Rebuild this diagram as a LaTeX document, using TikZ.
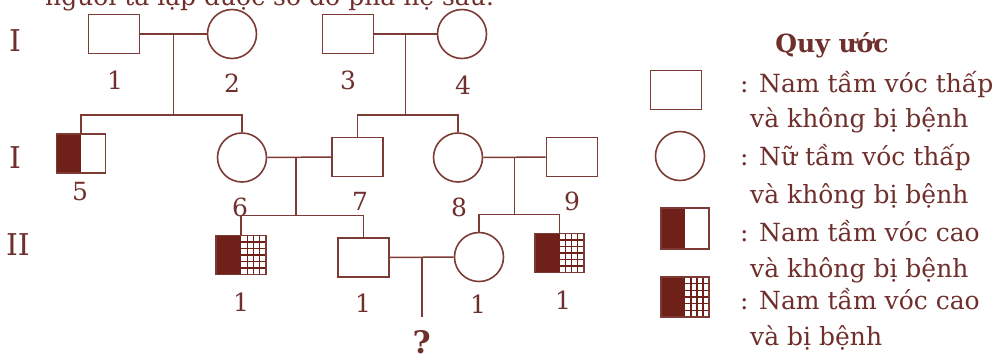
\documentclass[tikz,border=0pt]{standalone}
\usepackage{fontspec}
\setmainfont{DejaVu Serif}
\usetikzlibrary{
  positioning,
  calc
}
\definecolor{pedline}{HTML}{7D3B36}
\definecolor{pedfill}{HTML}{6E2019}
\definecolor{pedtext}{HTML}{6F2F2C}

\begin{document}
\begin{tikzpicture}[
    x=1pt, y=-1pt,
    every node/.style={font=\fontsize{25}{30}\selectfont, text=pedtext},
    male/.style={rectangle, draw=pedline, line width=1.6pt, fill=white,
                 minimum width=51pt, minimum height=39pt, inner sep=0pt},
    female/.style={circle, draw=pedline, line width=1.6pt, fill=white,
                   minimum size=49pt, inner sep=0pt},
    tallmale/.style={male, path picture={
        \fill[pedfill] (path picture bounding box.south west) rectangle (path picture bounding box.north);}},
    sickmale/.style={male, path picture={
        \fill[pedfill] (path picture bounding box.south west) rectangle (path picture bounding box.north);
        \foreach \k in {1,2,3}
          \draw[pedfill, line width=1.1pt] ($(path picture bounding box.south)!\k/4!(path picture bounding box.south east)$) -- ($(path picture bounding box.north)!\k/4!(path picture bounding box.north east)$);
        \foreach \k in {1,...,5}
          \draw[pedfill, line width=1.1pt] ($(path picture bounding box.south)!\k/6!(path picture bounding box.north)$) -- ($(path picture bounding box.south east)!\k/6!(path picture bounding box.north east)$);}},
    link/.style={draw=pedline, line width=1.5pt},
    num/.style={inner sep=0pt},
    genlabel/.style={font=\fontsize{30}{34}\selectfont, inner sep=0pt},
    legtext/.style={anchor=base west, inner sep=0pt},
]
\useasboundingbox (0,0) rectangle (1004,360);

% --- Cut-off line of text above ---
\node[anchor=base west, inner sep=0pt] (intro) at (45,5) {người ta lập được sơ đồ phả hệ sau:};

% --- Generation labels ---
\node[genlabel] (g1) at (15,41) {I};
\node[genlabel] (g2) at (15,158) {I};
\node[genlabel] (g3) at (18,245) {II};

% --- Row 1: grandparents ---
\node[male] (p1) at (114,34) {};
\node[female] (p2) at (232,34) {};
\node[male] (p3) at (348,34) {};
\node[female] (p4) at (462,34) {};
\node[num] (n1) at (115,80) {1};
\node[num] (n2) at (232,83) {2};
\node[num] (n3) at (348,80) {3};
\node[num] (n4) at (463,85) {4};

% --- Row 2: parents ---
\node[tallmale, minimum width=49pt] (p5) at (81,153.5) {};
\node[female] (p6) at (242,157.5) {};
\node[male] (p7) at (357.5,157) {};
\node[female] (p8) at (458,157.5) {};
\node[male] (p9) at (572,157) {};
\node[num] (n5) at (80,192) {5};
\node[num] (n6) at (240,207) {6};
\node[num] (n7) at (360,201) {7};
\node[num] (n8) at (459,207) {8};
\node[num] (n9) at (572,201) {9};

% --- Row 3: children ---
\node[sickmale, minimum width=50pt] (c1) at (241,255) {};
\node[male] (c2) at (363.5,257.5) {};
\node[female] (c3) at (479,257) {};
\node[sickmale, minimum width=49pt] (c4) at (559.5,253) {};
\node[num] (k1) at (241,302) {1};
\node[num] (k2) at (363,303) {1};
\node[num] (k3) at (478,304) {1};
\node[num] (k4) at (563,300) {1};

% --- Marriages and sibships ---
\draw[link] (p1) -- (p2);
\coordinate (m12) at ($(p1.east)!0.5!(p2.west)$);
\draw[link] (m12) -- ++(0,81) coordinate (s12);
\draw[link] (p5.north) |- (s12) -| (p6.north);

\draw[link] (p3) -- (p4);
\coordinate (m34) at ($(p3.east)!0.5!(p4.west)$);
\draw[link] (m34) -- ++(0,81) coordinate (s34);
\draw[link] (p7.north) |- (s34) -| (p8.north);

\draw[link] (p6) -- (p7);
\coordinate (m67) at ($(p6.east)!0.45!(p7.west)$);
\draw[link] (m67) -- ++(0,58) coordinate (s67);
\draw[link] (c1.north) |- (s67) -| (c2.north);

\draw[link] (p8) -- (p9);
\coordinate (m89) at ($(p8.east)!0.5!(p9.west)$);
\draw[link] (m89) -- ++(0,57) coordinate (s89);
\draw[link] (c3.north) |- (s89) -| (c4.north);

\draw[link] (c2) -- (c3);
\coordinate (m23) at ($(c2.east)!0.5!(c3.west)$);
\draw[link] (m23) -- ++(0,60) coordinate (kid);
\node[font=\fontsize{31}{34}\selectfont\bfseries, inner sep=0pt, anchor=north, below=13pt of kid] (q) {?};

% --- Legend ---
\node[font=\fontsize{25}{30}\selectfont\bfseries] (legtitle) at (832,45) {Quy ước};
\node[male] (lg1) at (676,90) {};
\node[female] (lg2) at (680,156) {};
\node[tallmale, minimum width=48pt, minimum height=41pt] (lg3) at (685,228.5) {};
\node[sickmale, minimum width=48pt, minimum height=40pt] (lg4) at (685,297) {};
\node[legtext] (l1a) at (740,92) {: Nam tầm vóc thấp};
\node[legtext] (l1b) at (750,127) {và không bị bệnh};
\node[legtext] (l2a) at (740,165) {: Nữ tầm vóc thấp};
\node[legtext] (l2b) at (750,203) {và không bị bệnh};
\node[legtext] (l3a) at (740,241) {: Nam tầm vóc cao};
\node[legtext] (l3b) at (750,277) {và không bị bệnh};
\node[legtext] (l4a) at (740,309) {: Nam tầm vóc cao};
\node[legtext] (l4b) at (750,345) {và bị bệnh};

\end{tikzpicture}
\end{document}
